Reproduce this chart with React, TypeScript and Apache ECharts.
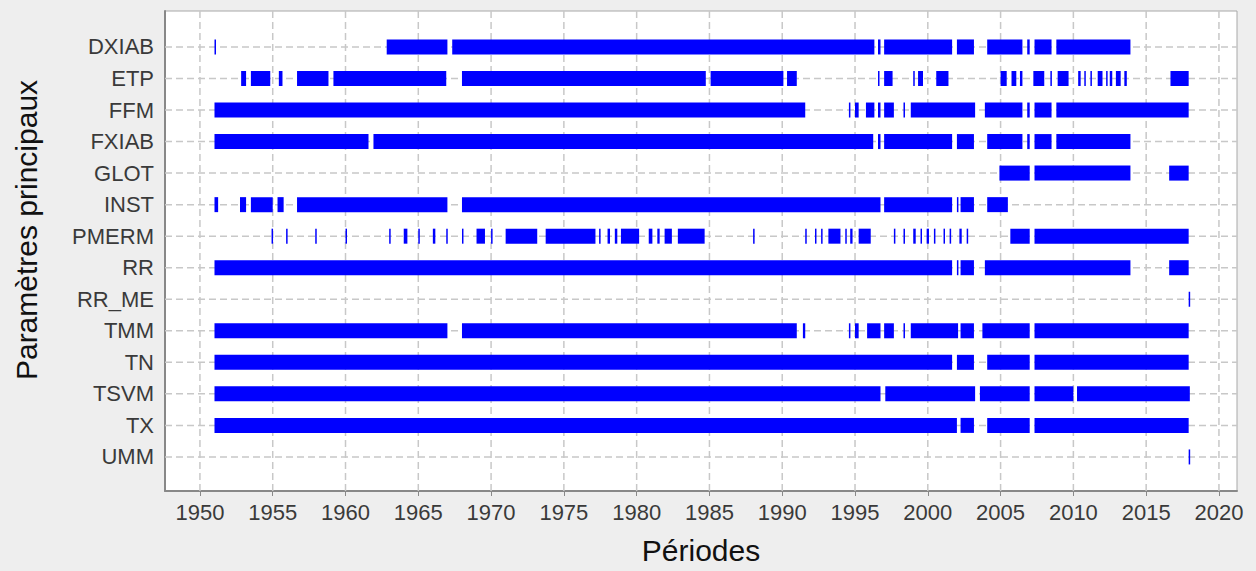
import React, { useEffect, useRef } from "react";
import * as echarts from "echarts";

const categories = ["DXIAB", "ETP", "FFM", "FXIAB", "GLOT", "INST", "PMERM", "RR", "RR_ME", "TMM", "TN", "TSVM", "TX", "UMM"];
const yearTicks = [1950, 1955, 1960, 1965, 1970, 1975, 1980, 1985, 1990, 1995, 2000, 2005, 2010, 2015, 2020];

const DXIAB = [[1951.0, 1951.08], [1962.83, 1967.0], [1967.33, 1996.33], [1996.58, 1996.75], [1997.0, 2001.67], [2002.0, 2003.17], [2004.08, 2006.5], [2006.83, 2007.0], [2007.33, 2008.5], [2008.83, 2013.92]];
const ETP = [[1952.83, 1953.17], [1953.5, 1954.83], [1955.42, 1955.67], [1956.67, 1958.83], [1959.17, 1966.92], [1968.0, 1984.75], [1985.08, 1990.08], [1990.33, 1991.0], [1996.58, 1996.67], [1997.0, 1997.58], [1999.0, 1999.08], [1999.33, 1999.67], [2000.58, 2001.42], [2005.0, 2005.42], [2005.75, 2006.08], [2006.33, 2006.5], [2007.25, 2008.0], [2008.42, 2008.5], [2008.92, 2009.67], [2010.33, 2010.5], [2010.75, 2010.83], [2011.17, 2011.25], [2011.67, 2012.0], [2012.25, 2012.33], [2012.5, 2012.67], [2012.92, 2013.25], [2013.5, 2013.67], [2016.67, 2017.92]];
const FFM = [[1951.0, 1991.58], [1994.58, 1994.67], [1995.0, 1995.25], [1995.75, 1996.33], [1996.58, 1996.75], [1997.0, 1997.67], [1998.33, 1998.42], [1998.83, 2003.25], [2003.92, 2006.5], [2006.83, 2007.0], [2007.33, 2008.5], [2008.83, 2017.92]];
const FXIAB = [[1951.0, 1961.58], [1961.92, 1996.25], [1996.58, 1996.75], [1997.0, 2001.67], [2002.0, 2003.17], [2004.08, 2006.5], [2006.83, 2007.0], [2007.33, 2008.5], [2008.83, 2013.92]];
const GLOT = [[2004.92, 2007.0], [2007.33, 2013.92], [2016.58, 2017.92]];
const INST = [[1951.0, 1951.25], [1952.75, 1953.17], [1953.5, 1955.0], [1955.33, 1955.75], [1956.67, 1967.0], [1968.0, 1996.75], [1997.0, 2001.67], [2002.0, 2002.08], [2002.25, 2003.17], [2004.08, 2005.5]];
const PMERM = [[1954.92, 1955.0], [1955.92, 1956.0], [1957.92, 1958.0], [1960.0, 1960.08], [1963.0, 1963.08], [1964.0, 1964.25], [1965.0, 1965.08], [1966.0, 1966.17], [1966.92, 1967.0], [1968.0, 1968.08], [1969.0, 1969.58], [1970.0, 1970.08], [1971.0, 1973.17], [1973.75, 1977.17], [1977.42, 1977.5], [1978.0, 1978.17], [1978.5, 1978.67], [1978.92, 1980.17], [1980.83, 1981.08], [1981.42, 1981.58], [1981.92, 1982.42], [1982.83, 1984.67], [1988.0, 1988.08], [1991.58, 1991.67], [1992.25, 1992.33], [1992.67, 1992.75], [1993.17, 1994.0], [1994.33, 1994.42], [1994.67, 1994.83], [1995.25, 1996.08], [1997.67, 1997.75], [1998.33, 1998.42], [1999.0, 1999.17], [1999.5, 1999.58], [1999.92, 2000.08], [2000.42, 2000.5], [2001.08, 2001.17], [2001.5, 2001.58], [2002.17, 2002.33], [2002.67, 2002.75], [2005.67, 2007.0], [2007.33, 2017.92]];
const RR = [[1951.0, 2001.67], [2002.0, 2002.08], [2002.25, 2003.17], [2003.92, 2013.92], [2016.58, 2017.92]];
const RR_ME = [[2017.92, 2018.0]];
const TMM = [[1951.0, 1967.0], [1968.0, 1991.0], [1991.42, 1991.58], [1994.58, 1994.67], [1995.0, 1995.25], [1995.83, 1996.75], [1997.0, 1997.67], [1998.33, 1998.42], [1998.83, 2002.08], [2002.25, 2003.17], [2003.75, 2007.0], [2007.33, 2017.92]];
const TN = [[1951.0, 2001.67], [2002.0, 2003.17], [2004.08, 2007.0], [2007.33, 2017.92]];
const TSVM = [[1951.0, 1996.75], [1997.08, 2003.25], [2003.58, 2007.0], [2007.33, 2010.0], [2010.25, 2018.0]];
const TX = [[1951.0, 2002.0], [2002.25, 2003.17], [2004.08, 2007.0], [2007.33, 2017.92]];
const UMM = [[2017.92, 2018.0]];

const periods = [DXIAB, ETP, FFM, FXIAB, GLOT, INST, PMERM, RR, RR_ME, TMM, TN, TSVM, TX, UMM];

const X_MIN = 1947.6;
const X_MAX = 2021.24;
const Y_MIN = -1.14;
const Y_MAX = 14.08;

export default function App() {
  const ref = useRef<HTMLDivElement>(null);
  useEffect(() => {
    document.body.style.margin = "0";
    if (!ref.current) return;
    const chart = echarts.init(ref.current, null, { renderer: "svg" });
    const barData: number[][] = [];
    periods.forEach((segs, i) => segs.forEach((s) => barData.push([i, s[0], s[1]])));
    const catIdx = categories.map((_, i) => i);
    const textColor = "#3a3a3a";
    chart.setOption({
      animation: false,
      backgroundColor: "#eeeeee",
      grid: {
        left: 165,
        right: 19,
        top: 11,
        bottom: 80,
        containLabel: false,
        outerBoundsMode: "none",
        show: true,
        backgroundColor: "#ffffff",
        borderColor: "#a8a8a8",
        borderWidth: 1,
      },
      graphic: [
        {
          type: "text",
          x: 26,
          y: 230,
          rotation: Math.PI / 2,
          style: {
            text: "Paramètres principaux",
            fontSize: 30,
            fill: "#111",
            fontFamily: "Liberation Sans, Arial, sans-serif",
            align: "center",
            verticalAlign: "middle",
          },
        },
      ],
      xAxis: {
        type: "value",
        min: X_MIN,
        max: X_MAX,
        name: "Périodes",
        nameLocation: "middle",
        nameGap: 44,
        nameTextStyle: { fontSize: 30, color: "#111", fontFamily: "Liberation Sans, Arial, sans-serif" },
        axisLine: { show: true, onZero: false, lineStyle: { color: "#888888", width: 2 } },
        axisTick: { show: true, customValues: yearTicks, length: 5, lineStyle: { color: "#888888", width: 1 } },
        axisLabel: {
          customValues: yearTicks,
          margin: 10,
          fontSize: 22,
          color: textColor,
          fontFamily: "Liberation Sans Narrow, Arial Narrow, Liberation Sans, sans-serif",
          formatter: (v: number) => String(Math.round(v)),
        },
        splitLine: { show: false },
      },
      yAxis: {
        type: "value",
        inverse: true,
        min: Y_MIN,
        max: Y_MAX,
        axisLine: { show: true, onZero: false, lineStyle: { color: "#888888", width: 2 } },
        axisTick: { show: false },
        axisLabel: {
          customValues: catIdx,
          margin: 11,
          fontSize: 22,
          color: textColor,
          fontFamily: "Liberation Sans, Arial, sans-serif",
          formatter: (v: number) => categories[Math.round(v)] ?? "",
        },
        splitLine: { show: false },
      },
      series: [
        {
          type: "custom",
          silent: true,
          z: 1,
          data: yearTicks.map((y) => [y, 0]),
          encode: { x: 0, y: 1 },
          renderItem: (params: any, api: any) => {
            const cs = params.coordSys;
            const p = api.coord([api.value(0), 0]);
            return {
              type: "line",
              shape: { x1: p[0], y1: cs.y, x2: p[0], y2: cs.y + cs.height },
              style: { stroke: "#c8c8c8", lineWidth: 1.5, lineDash: [7, 4] },
            };
          },
        },
        {
          type: "custom",
          silent: true,
          z: 1,
          data: catIdx.map((i) => [X_MIN, i]),
          encode: { x: 0, y: 1 },
          renderItem: (params: any, api: any) => {
            const cs = params.coordSys;
            const p = api.coord([X_MIN, api.value(1)]);
            return {
              type: "line",
              shape: { x1: cs.x, y1: p[1], x2: cs.x + cs.width, y2: p[1] },
              style: { stroke: "#c8c8c8", lineWidth: 1.5, lineDash: [7, 4] },
            };
          },
        },
        {
          type: "custom",
          z: 2,
          data: barData,
          encode: { x: [1, 2], y: 0 },
          renderItem: (params: any, api: any) => {
            const cat = api.value(0);
            const p0 = api.coord([api.value(1), cat]);
            const p1 = api.coord([api.value(2), cat]);
            const h = 15;
            const w = Math.max(p1[0] - p0[0], 1.5);
            return {
              type: "rect",
              shape: { x: p0[0], y: p0[1] - h / 2, width: w, height: h },
              style: { fill: "#0000ff" },
            };
          },
        },
      ],
    });
    return () => chart.dispose();
  }, []);
  return <div ref={ref} style={{ width: 1256, height: 571 }} />;
}
